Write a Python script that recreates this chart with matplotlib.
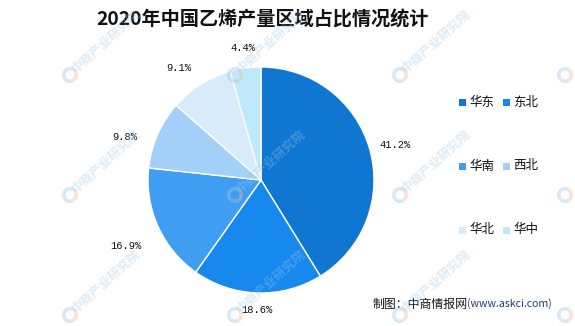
import numpy as np
import matplotlib
matplotlib.use("Agg")
import matplotlib.pyplot as plt
from matplotlib.patches import Rectangle, Wedge

plt.rcParams['font.family'] = ['Noto Sans CJK SC', 'DejaVu Sans']

categories = ['华东', '东北', '华南', '西北', '华北', '华中']
values = [41.2, 18.6, 16.9, 9.8, 9.1, 4.4]
colors = ['#0f77d1', '#1789ee', '#3f9ef1', '#a2d0f8', '#d7ebfb', '#bde9fb']
# label placement style: radial distance (in radii) and angular offset (deg)
label_dist = [1.23, 1.15, 1.33, 1.26, 1.23, 1.18]
label_dang = [-1.3, 0.0, 1.8, 6.3, 4.3, 0.0]

W, H = 575, 326
fig = plt.figure(figsize=(W / 100, H / 100), dpi=100)
fig.patch.set_facecolor('white')

cx, cy, R = 261, 180, 113
ax = fig.add_axes([(cx - R) / W, (H - cy - R) / H, 2 * R / W, 2 * R / H])
wedges, _ = ax.pie(values, colors=colors, startangle=90, counterclock=False,
                   radius=1, wedgeprops=dict(edgecolor='white', linewidth=1.0))
ax.set_xlim(-1, 1)
ax.set_ylim(-1, 1)
ax.set_aspect('equal')
ax.axis('off')

# percentage labels
for w, v, d, da in zip(wedges, values, label_dist, label_dang):
    ang = np.deg2rad((w.theta1 + w.theta2) / 2 + da)
    ax.text(d * np.cos(ang), d * np.sin(ang), f'{v:.1f}%', ha='center', va='center',
            fontsize=7.5, family=['Liberation Mono', 'DejaVu Sans Mono'],
            color='#111111', clip_on=False)

# title
fig.text(262 / W, 1 - 20 / H, '2020年中国乙烯产量区域占比情况统计', ha='center', va='center',
         fontsize=13.8, fontweight='bold', color='#111111')

# legend (manual, 2 columns x 3 rows)
for i, (cat, col) in enumerate(zip(categories, colors)):
    r, c = divmod(i, 2)
    x = 459 + c * 44
    y = 102 + r * 64
    fig.patches.append(Rectangle((x / W, 1 - (y + 3.5) / H), 7 / W, 7 / H,
                                 transform=fig.transFigure, facecolor=col,
                                 edgecolor='none', figure=fig))
    fig.text((x + 10) / W, 1 - y / H, cat, ha='left', va='center',
             fontsize=9, color='#111111')

# source note
t1 = fig.text(373 / W, 1 - 304 / H, '制图：中商情报网', ha='left', va='center',
              fontsize=8.6, color='#111111')
fig.canvas.draw()
bb = t1.get_window_extent()
fig.text((bb.x1 - 1) / W, 1 - 304 / H, '(www.askci.com)', ha='left', va='center',
         fontsize=7.6, color='#1f3b73')

# watermarks
for wx in [70, 235, 400, 565]:
    for wy in [75, 195, 315]:
        if wx < 500:
            fig.text((wx + 8) / W, 1 - wy / H, '中商产业研究院', ha='left', va='bottom',
                     rotation=42, rotation_mode='anchor', fontsize=9, fontweight='bold',
                     color='#9cc6e6', alpha=0.35, zorder=10)
        fig.patches.append(Wedge((wx, H - wy), 8, 60, 300, width=3.5,
                                 transform=None, facecolor='#9cc6e6', alpha=0.4,
                                 edgecolor='none', figure=fig, zorder=10))
        fig.patches.append(Wedge((wx, H - wy), 8, 300, 420, width=3.5,
                                 transform=None, facecolor='#f4b8a0', alpha=0.4,
                                 edgecolor='none', figure=fig, zorder=10))

fig.savefig('out.png', dpi=100, facecolor='white')
